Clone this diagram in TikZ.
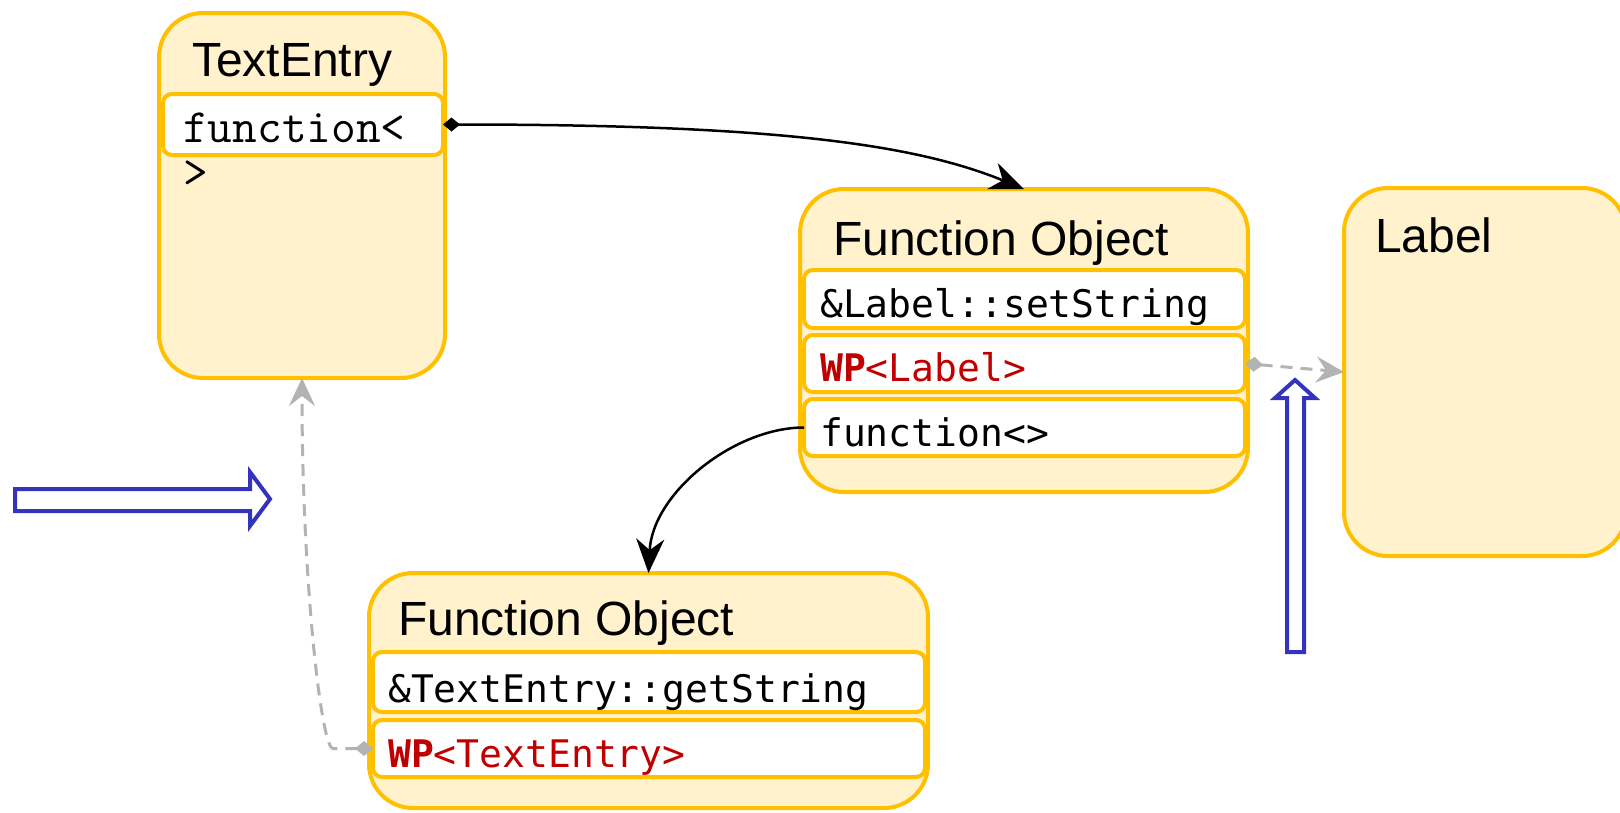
\documentclass[tikz,border=0pt]{standalone}
\usepackage{fontspec}
\setmainfont{Liberation Sans}
\newfontfamily\codefont{DejaVu Sans Mono}
\usetikzlibrary{arrows.meta}

\definecolor{boxline}{HTML}{FFC000}
\definecolor{boxfill}{HTML}{FFF2CC}
\definecolor{wpred}{HTML}{C00000}
\definecolor{hollowblue}{HTML}{3333BB}
\definecolor{linkgray}{HTML}{B3B3B3}

\tikzset{
  classbox/.style={draw=boxline, fill=boxfill, line width=4pt, rounded corners=44pt,
    rectangle, inner sep=0pt, outer sep=0pt, anchor=north west},
  fieldbox/.style={draw=boxline, fill=white, line width=4pt, rounded corners=9pt,
    rectangle, inner sep=0pt, outer sep=0pt, anchor=north west},
  titletext/.style={anchor=base west, inner sep=0pt, font=\fontsize{48}{56}\selectfont},
  codetext/.style={anchor=base west, inner sep=0pt, font=\codefont\fontsize{38}{46}\selectfont},
  courtext/.style={anchor=base west, inner sep=0pt, font=\ttfamily\fontsize{48}{56}\selectfont},
  ownlink/.style={draw=black, line width=2.5pt,
    {Diamond[length=17pt,width=14pt]}-{Stealth[length=34pt,width=28pt,inset=11pt]}},
  calllink/.style={draw=black, line width=2.5pt,
    -{Stealth[length=34pt,width=28pt,inset=11pt]}},
  weaklink/.style={draw=linkgray, line width=3pt, dash pattern=on 12pt off 8pt,
    {Diamond[length=18pt,width=15pt]}-{Stealth[length=28pt,width=26pt,inset=10pt]}},
  hollowarrow/.style={draw=hollowblue, fill=white, line width=4pt, line join=miter}
}

\begin{document}
\begin{tikzpicture}[x=1pt, y=-1pt]
\useasboundingbox (0,0) rectangle (1620,812);

% TextEntry class
\node[classbox, minimum width=286pt, minimum height=365pt] (te) at (159,13) {};
\node[fieldbox, minimum width=280pt, minimum height=61pt] (tefield) at (163,94) {};
\node[titletext] (tetitle) at (192,76) {TextEntry};
\node[courtext] (tefn) at (183,142) {function<};
\node[courtext] (tefnend) at (183,187) {>};

% Function object bound to Label::setString
\node[classbox, minimum width=448pt, minimum height=303pt] (fa) at (800,189) {};
\node[fieldbox, minimum width=441pt, minimum height=58pt] (fa1) at (804,270) {};
\node[fieldbox, minimum width=441pt, minimum height=57pt] (fa2) at (804,335) {};
\node[fieldbox, minimum width=441pt, minimum height=57pt] (fa3) at (804,399) {};
\node[titletext] (fatitle) at (833,255) {Function Object};
\node[codetext] (fa1txt) at (820,317) {\&Label::setString};
\node[codetext, text=wpred] (fa2txt) at (820,381) {\textbf{WP}<Label>};
\node[codetext] (fa3txt) at (820,446) {function<>};

% Function object bound to TextEntry::getString
\node[classbox, minimum width=559pt, minimum height=235pt] (fb) at (369,573) {};
\node[fieldbox, minimum width=552pt, minimum height=60pt] (fb1) at (373,652) {};
\node[fieldbox, minimum width=552pt, minimum height=57pt] (fb2) at (373,720) {};
\node[titletext] (fbtitle) at (398,635) {Function Object};
\node[codetext] (fb1txt) at (388,702) {\&TextEntry::getString};
\node[codetext, text=wpred] (fb2txt) at (388,767) {\textbf{WP}<TextEntry>};

% Label class
\node[classbox, minimum width=282pt, minimum height=368pt] (lbl) at (1344,188) {};
\node[titletext] (lbltitle) at (1375,252) {Label};

% Connectors
\draw[ownlink] (tefield.east) .. controls +(330,0) and +(-110,-45) .. (fa.north);
\draw[calllink] (fa3.west) .. controls +(-70,0) and +(4,-80) .. (fb.north);
\draw[weaklink] (fa2.east) -- (lbl.west);
\draw[weaklink] (fb2.west) -- ++(-40,0) .. controls +(-12,0) and +(0,200) .. (te.south);

% Hollow block arrows
\draw[hollowarrow] (15,489) -- (250,489) -- (250,472) -- (270,499) -- (250,526)
  -- (250,511) -- (15,511) -- cycle;
\draw[hollowarrow] (1287,652) -- (1287,398) -- (1275,398) -- (1295,380) -- (1315,398)
  -- (1304,398) -- (1304,652) -- cycle;
\end{tikzpicture}
\end{document}
